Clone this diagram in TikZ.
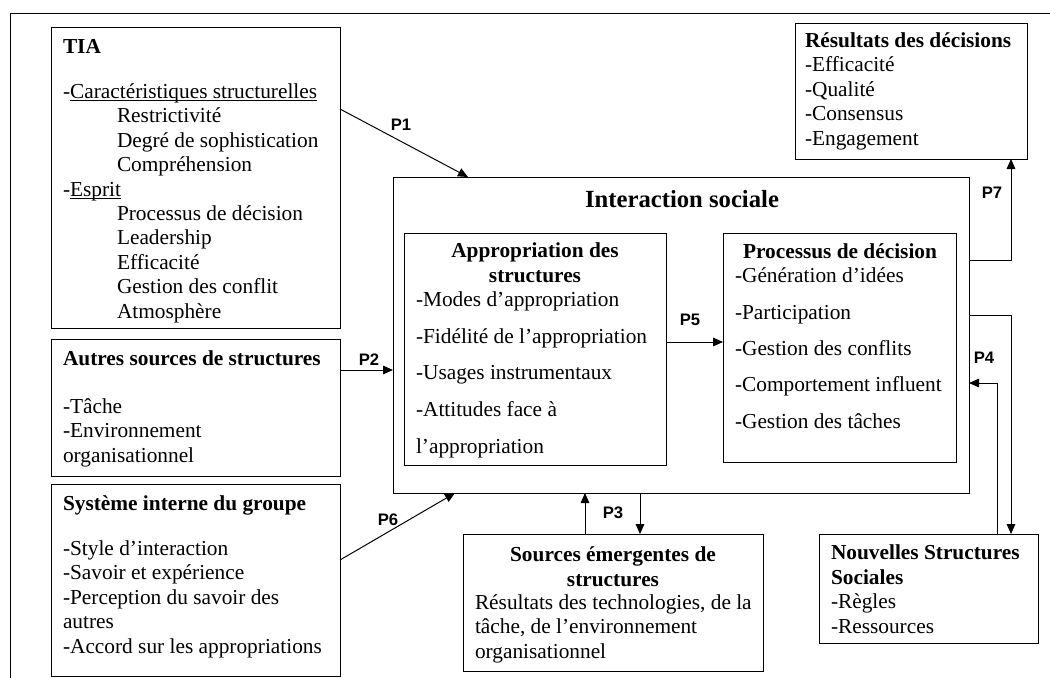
\documentclass[tikz,border=0pt]{standalone}
\usepackage{fontspec}
\setmainfont{Liberation Serif}
\newfontfamily\arialfont{Liberation Sans}
\usetikzlibrary{arrows.meta,calc,fit}
\newcommand\myul[1]{\setbox0\hbox{#1}\rlap{\rule[-2pt]{\wd0}{0.7pt}}\box0}
\newcommand\ind{\hspace*{40.5pt}}
\begin{document}
\begin{tikzpicture}[x=0.75pt,y=-0.75pt,
  box/.style={draw=black, line width=0.75pt, inner sep=0pt, outer sep=0pt},
  txt/.style={inner sep=0pt, outer sep=0pt, align=left, anchor=base west, font=\fontsize{16}{18.3}\selectfont},
  ttl/.style={inner sep=0pt, outer sep=0pt, align=center, anchor=base, font=\bfseries\fontsize{16}{18.3}\selectfont},
  plab/.style={inner sep=0pt, font=\arialfont\bfseries\fontsize{12.5}{14}\selectfont},
  arr/.style={-{Triangle[length=7.5pt,width=6.5pt]}, line width=0.75pt}]
\useasboundingbox (0,0) rectangle (1050,678);
% outer frame
\draw[line width=0.75pt] (1050,13) -- (10,13) -- (10,678);

% left column (text nodes are anchored at the baseline of their last line)
\node[box, fit={(51,27)(340,328)}] (tia) {};
\node[txt] (tiat) at (63,318) {\textbf{TIA}\\[15.45pt]
 -\myul{Caractéristiques structurelles}\\
 \ind Restrictivité\\
 \ind Degré de sophistication\\
 \ind Compréhension\\
 -\myul{Esprit}\\
 \ind Processus de décision\\
 \ind Leadership\\
 \ind Efficacité\\
 \ind Gestion des conflit\\
 \ind Atmosphère};

\node[box, fit={(51,339)(340,476)}] (autres) {};
\node[txt] (autrest) at (63,462) {\textbf{Autres sources de structures}\\[17.7pt]
 -Tâche\\ -Environnement\\ organisationnel};

\node[box, fit={(51,484)(340,676)}] (sys) {};
\node[txt] (syst) at (63,653) {\textbf{Système interne du groupe}\\[15.45pt]
 -Style d’interaction\\ -Savoir et expérience\\ -Perception du savoir des\\ autres\\ -Accord sur les appropriations};

% interaction sociale
\node[box, fit={(393,177)(969,493)}] (inter) {};
\node[ttl, font=\bfseries\fontsize{18.5}{20}\selectfont] (intert) at (682,207) {Interaction sociale};

\node[box, fit={(404,233)(666,465)}] (appr) {};
\node[ttl] (apprt) at (535,282) {Appropriation des\\structures};
\node[txt, font=\fontsize{16}{27.4}\selectfont] (appri) at (416,453) {-Modes d’appropriation\\ -Fidélité de l’appropriation\\ -Usages instrumentaux\\ -Attitudes face à\\ l’appropriation};

\node[box, fit={(723,233)(956,462)}] (proc) {};
\node[ttl] (proct) at (840,258) {Processus de décision};
\node[txt, font=\fontsize{16}{27.2}\selectfont] (proci) at (735,428) {-Génération d’idées\\ -Participation\\ -Gestion des conflits\\ -Comportement influent\\ -Gestion des tâches};

% results
\node[box, fit={(795,23)(1027,159)}] (res) {};
\node[txt] (rest) at (805,145) {\textbf{Résultats des décisions}\\ -Efficacité\\ -Qualité\\ -Consensus\\ -Engagement};

% bottom boxes
\node[box, fit={(463,534)(763,671)}] (src) {};
\node[ttl] (srct) at (613,586) {Sources émergentes de\\structures};
\node[txt] (srci) at (475,658) {Résultats des technologies, de la\\ tâche, de l’environnement\\ organisationnel};

\node[box, fit={(819,534)(1038,643)}] (nss) {};
\node[txt] (nsst) at (831,633) {\textbf{Nouvelles Structures}\\ \textbf{Sociales}\\ -Règles\\ -Ressources};

% connectors
\draw[arr] ($(tia.north east)+(0,82)$) -- ($(inter.north west)+(75,0)$);
\node[plab] (p1) at (401,125) {P1};

\draw[arr] ($(autres.north east)+(0,31)$) -- ($(inter.north west)+(0,193)$);
\node[plab] (p2) at (369,360) {P2};

\draw[arr] ($(sys.north east)+(0,76)$) -- ($(inter.south west)+(62,0)$);
\node[plab] (p6) at (388,520) {P6};

\draw[arr] ($(src.north west)+(122,0)$) -- ($(inter.south west)+(192,0)$);
\draw[arr] ($(inter.south west)+(247,0)$) -- ($(src.north west)+(177,0)$);
\node[plab] (p3) at (613,513) {P3};

\draw[arr] ($(appr.north east)+(0,109)$) -- ($(proc.north west)+(0,109)$);
\node[plab] (p5) at (690,320) {P5};

\draw[arr] ($(inter.north east)+(0,83)$) -| ($(res.south west)+(216,0)$);
\node[plab] (p7) at (992,193) {P7};

\draw[arr] ($(inter.north east)+(0,138)$) -| ($(nss.north west)+(192,0)$);
\draw[arr] ($(nss.north west)+(178,0)$) |- ($(inter.north east)+(0,206)$);
\node[plab] (p4) at (984,358) {P4};
\end{tikzpicture}
\end{document}
